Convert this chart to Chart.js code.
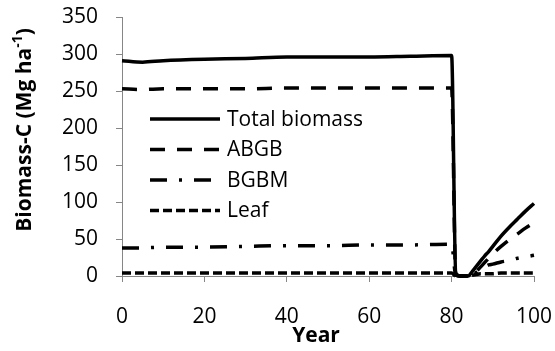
<!DOCTYPE html>
<html>
<head>
<meta charset="utf-8">
<script src="https://cdn.jsdelivr.net/npm/chart.js@4/dist/chart.umd.min.js"></script>
<style>
  body { margin: 0; background: #fff; }
</style>
</head>
<body>
<canvas id="biomass-chart" width="555" height="351"></canvas>
<script>
// simulated stand carbon, harvest at year 80
var years   = [0, 5, 10, 20, 30, 40, 50, 60, 70, 80, 81, 82, 84, 85, 86, 87, 88, 89, 90, 92, 94, 96, 98, 100];
var total   = [291, 289, 291, 293, 294, 296, 296, 296, 297, 298, 4, 0, 0, 6, 13, 20, 27, 33, 40, 54, 66, 77, 88, 98];
var abgb    = [253, 252, 253, 253, 253, 254, 254, 254, 254, 254, 3, 0, 0, 1, 6, 12, 18, 24, 30, 40, 49, 57, 65, 72];
var bgbm    = [38, 38, 39, 39, 40, 41, 41, 42, 42, 43, 1, 0, 0, 1, 5, 9, 12, 15, 16, 19, 21, 24, 26, 28];
var leaf    = [4, 4, 4, 4, 4, 4, 4, 4, 4, 4, 0, 0, 0, 1, 2, 3, 3, 3, 3, 4, 4, 4, 4, 4];
var yTicks  = [0, 50, 100, 150, 200, 250, 300, 350];

var FONT = "'Open Sans', sans-serif";
var axisGray = '#868686';

function pts(vals) {
  return vals.map(function(v, i) { return { x: years[i], y: v }; });
}

function series(label, vals, width, dash) {
  return {
    label: label,
    data: pts(vals),
    borderColor: '#000',
    borderWidth: width,
    borderDash: dash,
    borderCapStyle: 'butt',
    pointRadius: 0,
    fill: false,
    clip: false,
    cubicInterpolationMode: 'monotone'
  };
}

// legend sits inside the plot, and the axis titles are placed by hand
var overlay = {
  id: 'overlay',
  afterDraw: function(chart) {
    var ctx = chart.ctx;
    ctx.save();
    ctx.fillStyle = '#000';
    ctx.strokeStyle = '#000';
    ctx.font = '21px ' + FONT;
    ctx.textBaseline = 'middle';
    chart.data.datasets.forEach(function(ds, i) {
      var y = 119 + i * 30.5;
      ctx.lineWidth = ds.borderWidth;
      ctx.setLineDash(ds.borderDash || []);
      ctx.beginPath();
      ctx.moveTo(150, y);
      ctx.lineTo(220, y);
      ctx.stroke();
      ctx.setLineDash([]);
      ctx.fillText(ds.label, 227, y + 1);
    });

    // x title
    ctx.font = 'bold 21px ' + FONT;
    ctx.textAlign = 'center';
    ctx.fillText('Year', 316, 336);

    // y title with superscript
    ctx.translate(25, 130);
    ctx.rotate(-Math.PI / 2);
    var main = 'Biomass-C (Mg ha';
    var sup = '-1';
    var tail = ')';
    ctx.font = 'bold 21px ' + FONT;
    var wMain = ctx.measureText(main).width;
    var wTail = ctx.measureText(tail).width;
    ctx.font = 'bold 14px ' + FONT;
    var wSup = ctx.measureText(sup).width;
    var x0 = -(wMain + wSup + wTail) / 2;
    ctx.textAlign = 'left';
    ctx.font = 'bold 21px ' + FONT;
    ctx.fillText(main, x0, 0);
    ctx.font = 'bold 14px ' + FONT;
    ctx.fillText(sup, x0 + wMain, -7);
    ctx.font = 'bold 21px ' + FONT;
    ctx.fillText(tail, x0 + wMain + wSup, 0);
    ctx.restore();
  }
};

new Chart(document.getElementById('biomass-chart'), {
  type: 'line',
  data: {
    datasets: [
      series('Total biomass', total, 3.5, []),
      series('ABGB', abgb, 3.5, [15, 12]),
      series('BGBM', bgbm, 3.5, [17, 12, 3, 12]),
      series('Leaf', leaf, 3.5, [9, 4])
    ]
  },
  options: {
    responsive: false,
    animation: false,
    layout: { padding: { left: 0, top: 17, right: 21, bottom: 0 } },
    plugins: {
      legend: { display: false },
      tooltip: { enabled: false }
    },
    scales: {
      x: {
        type: 'linear',
        min: 0,
        max: 100,
        afterFit: function(s) {
          s.height = 75;
          s.paddingLeft = 0;
          s.paddingRight = 0;
        },
        ticks: { stepSize: 20, color: '#000', padding: 22, font: { family: FONT, size: 21 } },
        grid: { drawOnChartArea: false, drawTicks: true, tickLength: 6, color: axisGray },
        border: { color: axisGray, width: 1 }
      },
      y: {
        min: 0,
        max: 350,
        afterFit: function(s) {
          s.width = 122;
          s.paddingTop = 0;
          s.paddingBottom = 0;
        },
        afterBuildTicks: function(s) { s.ticks = yTicks.map(function(v) { return { value: v }; }); },
        ticks: { color: '#000', padding: 18, font: { family: FONT, size: 21 } },
        grid: { drawOnChartArea: false, drawTicks: true, tickLength: 6, color: axisGray },
        border: { color: axisGray, width: 1 }
      }
    }
  },
  plugins: [overlay]
});
</script>
</body>
</html>
